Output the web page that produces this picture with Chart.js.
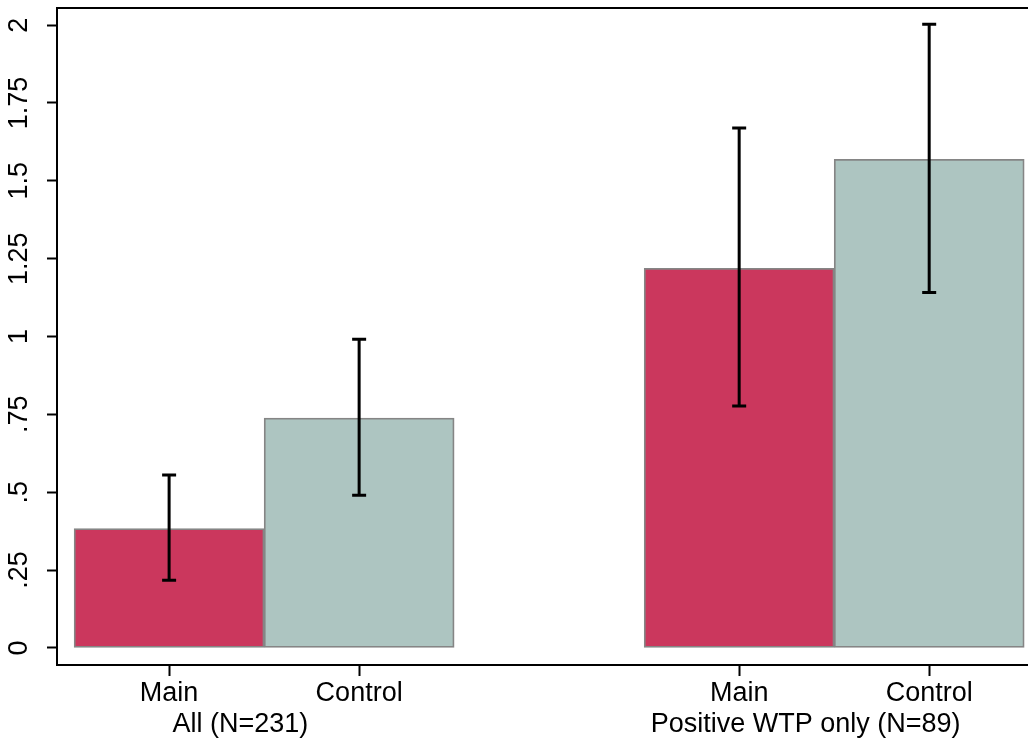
<!DOCTYPE html>
<html>
<head>
<meta charset="utf-8">
<script src="https://cdn.jsdelivr.net/npm/chart.js@4/dist/chart.umd.min.js"></script>
<style>
  body { margin: 0; background: #fff; }
  #wrap { width: 1028px; height: 742px; }
</style>
</head>
<body>
<div id="wrap"><canvas id="chart" width="1028" height="742"></canvas></div>
<script>
// bar values
const barLabels = ["Main", "Control", "Main", "Control"];
const barPos = [0, 1, 3, 4];
const barValues = [0.383, 0.738, 1.219, 1.569];
const ciLow = [0.217, 0.490, 0.777, 1.141];
const ciHigh = [0.555, 0.991, 1.670, 2.003];

const groupLabels = ["All (N=231)", "Positive WTP only (N=89)"];
const groupPos = [0.375, 3.35];

const yTicks = [0, 0.25, 0.5, 0.75, 1, 1.25, 1.5, 1.75, 2];

const RED = "#cb375d";
const TEAL = "#adc5c1";
const FONT = "'Liberation Sans', Arial, sans-serif";
const FSIZE = 27;

function fmtTick(v) {
  // Stata style: drop the leading zero
  let s = String(v);
  if (s.startsWith("0.")) s = s.slice(1);
  return s;
}

const stataBits = {
  id: "stataBits",
  afterDatasetsDraw(chart) {
    const { ctx, chartArea } = chart;
    const x = chart.scales.x, y = chart.scales.y;
    ctx.save();
    // error bars
    ctx.strokeStyle = "#000";
    ctx.lineWidth = 3;
    barPos.forEach((p, i) => {
      const px = x.getPixelForValue(p);
      const yl = y.getPixelForValue(ciLow[i]);
      const yh = y.getPixelForValue(ciHigh[i]);
      ctx.beginPath();
      ctx.moveTo(px, yl); ctx.lineTo(px, yh);
      ctx.moveTo(px - 7, yl); ctx.lineTo(px + 7, yl);
      ctx.moveTo(px - 7, yh); ctx.lineTo(px + 7, yh);
      ctx.stroke();
    });
    // top frame line
    ctx.lineWidth = 2;
    ctx.beginPath();
    ctx.moveTo(chartArea.left - 1, chartArea.top);
    ctx.lineTo(chartArea.right, chartArea.top);
    ctx.stroke();
    // group labels under the x axis
    ctx.fillStyle = "#000";
    ctx.font = FSIZE + "px " + FONT;
    ctx.textAlign = "center";
    ctx.textBaseline = "alphabetic";
    groupLabels.forEach((g, i) => {
      ctx.fillText(g, x.getPixelForValue(groupPos[i]), 732);
    });
    ctx.restore();
  }
};

new Chart(document.getElementById("chart"), {
  type: "bar",
  data: {
    datasets: [{
      data: barPos.map((p, i) => ({ x: p, y: barValues[i] })),
      backgroundColor: barLabels.map(l => l === "Main" ? RED : TEAL),
      borderColor: "#858585",
      borderWidth: 1.8,
      borderSkipped: false,
      barPercentage: 1,
      categoryPercentage: 1
    }]
  },
  options: {
    responsive: false,
    animation: false,
    layout: { padding: { top: 8, right: 0, left: 0, bottom: 0 } },
    plugins: { legend: { display: false }, tooltip: { enabled: false } },
    scales: {
      x: {
        type: "linear",
        offset: false,
        min: -0.59,
        max: 4.52,
        grid: { offset: false, drawOnChartArea: false, tickLength: 11, tickColor: "#000", tickWidth: 2 },
        border: { display: true, color: "#000", width: 2 },
        afterBuildTicks: s => { s.ticks = barPos.map(v => ({ value: v })); },
        ticks: {
          color: "#000",
          font: { family: FONT, size: FSIZE },
          padding: 1,
          maxRotation: 0,
          autoSkip: false,
          callback: (v) => barLabels[barPos.indexOf(v)]
        },
        afterFit: s => { s.height = 77; s.paddingLeft = 0; s.paddingRight = 0; }
      },
      y: {
        min: -0.055,
        max: 2.055,
        grid: { drawOnChartArea: false, tickLength: 10, tickColor: "#000", tickWidth: 2 },
        border: { display: true, color: "#000", width: 2 },
        afterBuildTicks: s => { s.ticks = yTicks.map(v => ({ value: v })); },
        ticks: {
          color: "#000",
          font: { family: FONT, size: FSIZE },
          minRotation: 90,
          maxRotation: 90,
          crossAlign: "center",
          padding: 1,
          autoSkip: false,
          callback: v => fmtTick(v)
        },
        afterFit: s => { s.width = 57; s.paddingTop = 0; s.paddingBottom = 0; }
      }
    }
  },
  plugins: [stataBits]
});
</script>
</body>
</html>
